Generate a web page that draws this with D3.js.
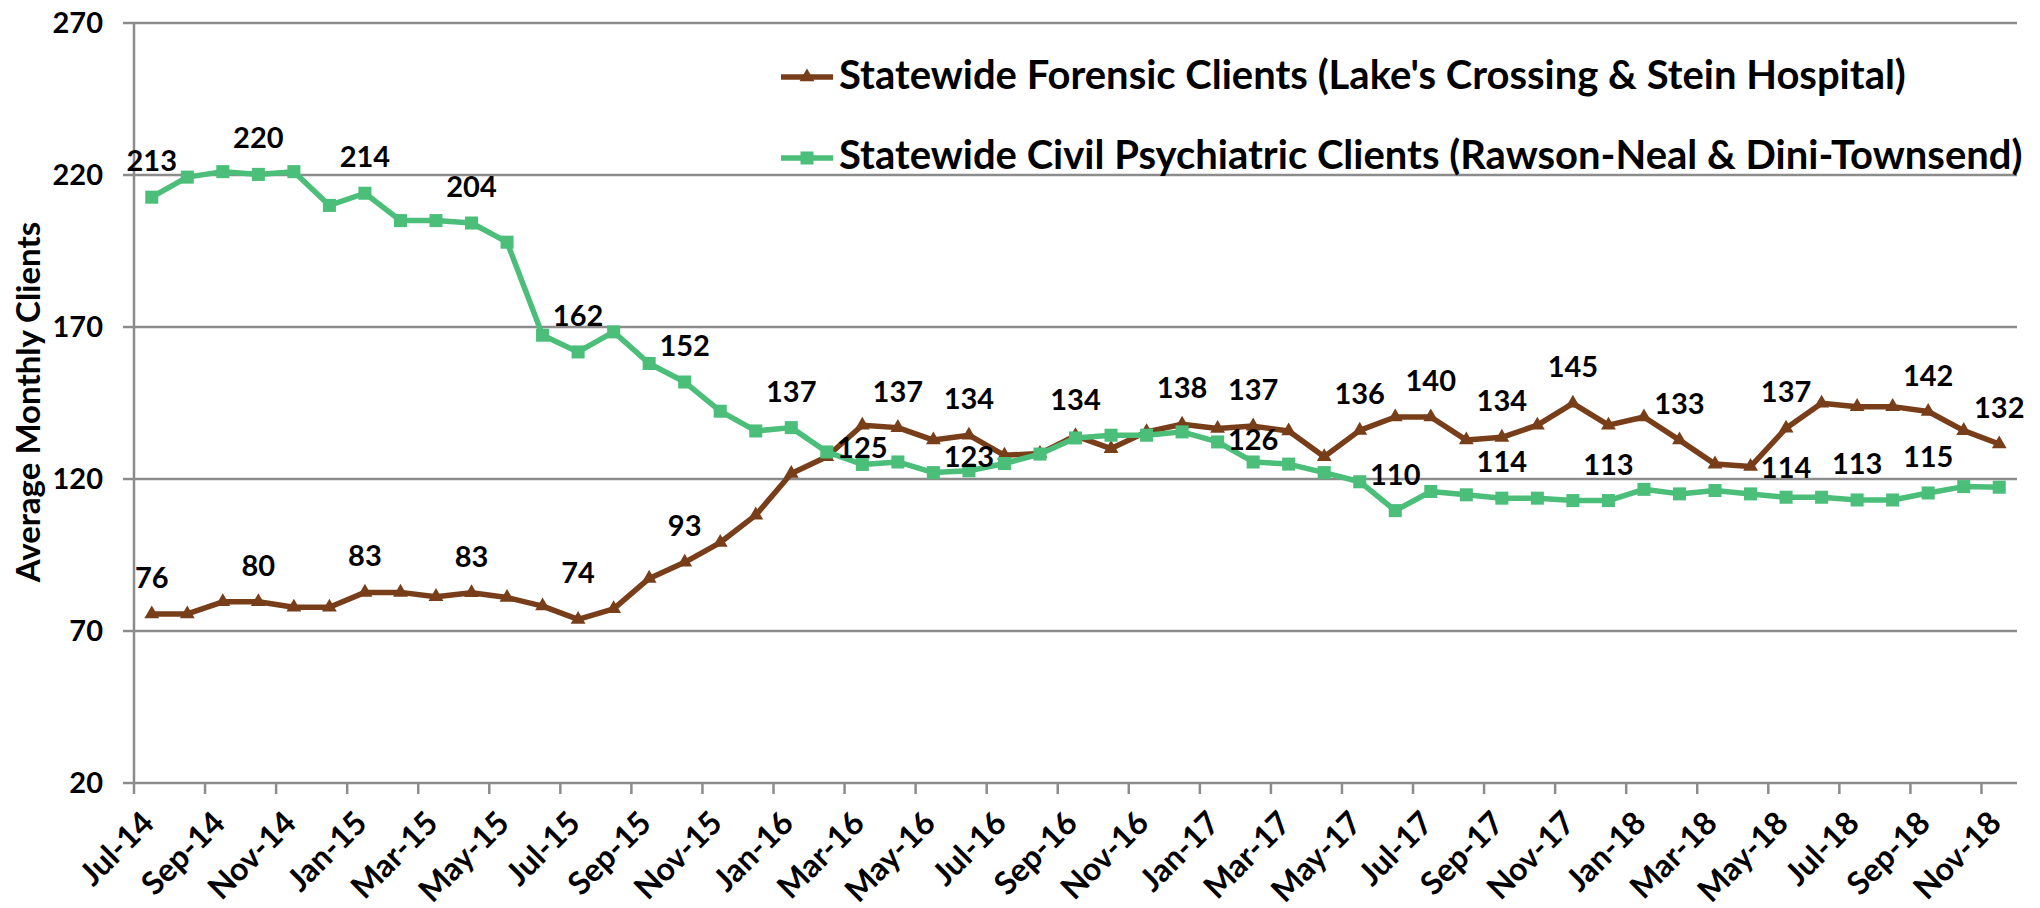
<!DOCTYPE html>
<html>
<head>
<meta charset="utf-8">
<script src="https://cdn.jsdelivr.net/npm/d3@7"></script>
<style>
  body { margin: 0; background: #fff; }
  svg { display: block; font-family: Lato, "Open Sans", sans-serif; font-weight: bold; }
</style>
</head>
<body>
<svg id="chart" width="2040" height="908"></svg>
<script>
// months shown on the category axis (one per point)
var months = ["Jul-14","Aug-14","Sep-14","Oct-14","Nov-14","Dec-14","Jan-15","Feb-15","Mar-15","Apr-15","May-15","Jun-15",
  "Jul-15","Aug-15","Sep-15","Oct-15","Nov-15","Dec-15","Jan-16","Feb-16","Mar-16","Apr-16","May-16","Jun-16",
  "Jul-16","Aug-16","Sep-16","Oct-16","Nov-16","Dec-16","Jan-17","Feb-17","Mar-17","Apr-17","May-17","Jun-17",
  "Jul-17","Aug-17","Sep-17","Oct-17","Nov-17","Dec-17","Jan-18","Feb-18","Mar-18","Apr-18","May-18","Jun-18",
  "Jul-18","Aug-18","Sep-18","Oct-18","Nov-18"];

var forensic = [75.6,75.6,79.6,79.6,77.8,77.8,82.7,82.7,81.3,82.6,81.0,78.2,
  73.8,77.3,87.3,92.6,99.1,108.1,121.8,127.3,137.7,136.9,132.8,134.4,
  127.8,128.4,134.2,130.0,135.5,138.0,136.6,137.4,135.8,127.3,136.0,140.4,
  140.4,132.8,133.7,137.7,144.9,137.7,140.4,132.8,124.9,124.1,136.7,144.9,
  143.8,143.8,142.2,135.9,131.5];

var civil = [212.7,219.3,221.1,220.2,221.1,210.0,214.0,205.0,205.0,204.2,197.9,167.3,
  161.8,168.4,158.0,151.9,142.3,135.8,136.9,128.9,124.8,125.6,122.1,122.7,
  125.1,128.2,133.5,134.4,134.4,135.5,132.2,125.6,124.9,122.1,119.1,109.6,
  115.9,114.8,113.7,113.7,112.9,112.9,116.6,115.1,116.2,115.1,114.0,114.0,
  113.1,113.1,115.4,117.5,117.3];

// which points carry a value label
var forensicLabelIdx = [0,3,6,9,12,15,21,23,26,29,31,34,36,38,40,43,46,50,52];
var civilLabelIdx = [0,3,6,9,12,15,18,20,23,31,35,38,41,46,48,50];

var yTicks = [20,70,120,170,220,270];
var seriesNames = ["Statewide Forensic Clients (Lake's Crossing & Stein Hospital)",
  "Statewide Civil Psychiatric Clients (Rawson-Neal & Dini-Townsend)"];

// label nudges (baseline offset from point), default is -26
var forensicNudge = {12: -36};
var civilNudge = {20: -6, 23: -4, 31: -12, 46: -19};

var brown = "#783e19", green = "#4bbe7a", gridCol = "#8c8c8c";
var plotL = 134, plotR = 2017, plotT = 23, plotB = 783;

var svg = d3.select("#chart");

var x = d3.scalePoint().domain(d3.range(months.length)).range([plotL, plotR]).padding(0.5);
var step = x.step();
var y = d3.scaleLinear().domain([20, 270]).range([plotB, plotT]);

// gridlines
svg.append("g").selectAll("line").data(yTicks).join("line")
  .attr("x1", plotL).attr("x2", plotR)
  .attr("y1", function(d){ return y(d); }).attr("y2", function(d){ return y(d); })
  .attr("stroke", gridCol).attr("stroke-width", 2.5);

// y axis line + outward ticks
svg.append("line").attr("x1", plotL).attr("x2", plotL).attr("y1", plotT).attr("y2", plotB)
  .attr("stroke", gridCol).attr("stroke-width", 2.5);
svg.append("g").selectAll("line").data(yTicks).join("line")
  .attr("x1", plotL - 11).attr("x2", plotL)
  .attr("y1", function(d){ return y(d); }).attr("y2", function(d){ return y(d); })
  .attr("stroke", gridCol).attr("stroke-width", 2.5);

svg.append("g").selectAll("text").data(yTicks).join("text")
  .attr("x", 103).attr("y", function(d){ return y(d); }).attr("dy", "0.36em")
  .attr("text-anchor", "end").style("font-size", "29px")
  .text(function(d){ return d; });

// x ticks every 2 categories, between points
var xTickIdx = d3.range(0, months.length, 2);
svg.append("g").selectAll("line").data(xTickIdx).join("line")
  .attr("x1", function(i){ return x(i) - step/2; }).attr("x2", function(i){ return x(i) - step/2; })
  .attr("y1", plotB).attr("y2", plotB + 11)
  .attr("stroke", gridCol).attr("stroke-width", 2.5);

svg.append("g").selectAll("text").data(xTickIdx).join("text")
  .attr("transform", function(i){ return "translate(" + (x(i) + 4) + ",825) rotate(-45)"; })
  .attr("text-anchor", "end").style("font-size", "32px")
  .text(function(i){ return months[i]; });

// y title
svg.append("text")
  .attr("transform", "translate(40,402) rotate(-90)")
  .attr("text-anchor", "middle").style("font-size", "33px")
  .text("Average Monthly Clients");

var line = d3.line().x(function(d, i){ return x(i); }).y(function(d){ return y(d); });
var tri = d3.symbol().type(d3.symbolTriangle).size(95);
var sq = d3.symbol().type(d3.symbolSquare).size(170);

function drawSeries(vals, col, sym) {
  var g = svg.append("g");
  g.append("path").datum(vals).attr("d", line)
    .attr("fill", "none").attr("stroke", col).attr("stroke-width", 5.5)
    .attr("stroke-linejoin", "round");
  g.selectAll("path.m").data(vals).join("path").attr("class", "m")
    .attr("transform", function(d, i){ return "translate(" + x(i) + "," + y(d) + ")"; })
    .attr("d", sym).attr("fill", col);
}
drawSeries(forensic, brown, tri);
drawSeries(civil, green, sq);

function drawLabels(vals, idx, nudge) {
  svg.append("g").selectAll("text").data(idx).join("text")
    .attr("x", function(i){ return x(i); })
    .attr("y", function(i){ return y(vals[i]) + (nudge[i] !== undefined ? nudge[i] : -26); })
    .attr("text-anchor", "middle").style("font-size", "29px")
    .text(function(i){ return Math.round(vals[i]); });
}
drawLabels(forensic, forensicLabelIdx, forensicNudge);
drawLabels(civil, civilLabelIdx, civilNudge);

// legend
var leg = svg.append("g");
var legRows = [
  {name: seriesNames[0], col: brown, sym: tri, cy: 77, base: 89},
  {name: seriesNames[1], col: green, sym: sq, cy: 158, base: 169}
];
legRows.forEach(function(r) {
  leg.append("line").attr("x1", 781).attr("x2", 833).attr("y1", r.cy).attr("y2", r.cy)
    .attr("stroke", r.col).attr("stroke-width", 5.5);
  leg.append("path").attr("d", r.sym).attr("fill", r.col)
    .attr("transform", "translate(807," + r.cy + ")");
  leg.append("text").attr("x", 839).attr("y", r.base).style("font-size", "34px").text(r.name);
});
// fit legend to the reference width of the first row
var t0 = leg.select("text").node();
var fs = 34 * 1067 / t0.getComputedTextLength();
leg.selectAll("text").style("font-size", fs + "px");
</script>
</body>
</html>
